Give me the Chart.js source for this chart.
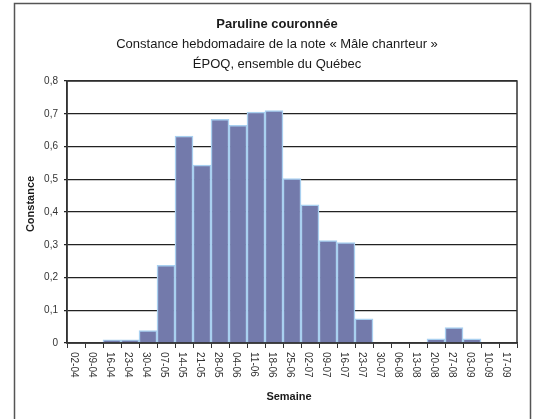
<!DOCTYPE html>
<html>
<head>
<meta charset="utf-8">
<script src="https://cdn.jsdelivr.net/npm/chart.js@4.4.1/dist/chart.umd.min.js"></script>
<style>
  html, body { margin: 0; padding: 0; background: #fff; }
  #wrap { position: relative; width: 536px; height: 419px; }
</style>
</head>
<body>
<div id="wrap"><canvas id="c" width="536" height="419"></canvas></div>
<script>
const weeks = ['02-04','09-04','16-04','23-04','30-04','07-05','14-05','21-05','28-05','04-06','11-06','18-06','25-06','02-07','09-07','16-07','23-07','30-07','06-08','13-08','20-08','27-08','03-09','10-09','17-09'];
const constance = [0,0,0.01,0.01,0.038,0.237,0.632,0.543,0.683,0.665,0.705,0.71,0.502,0.422,0.313,0.307,0.074,0,0,0,0.013,0.047,0.013,0,0];
const titleLines = ['Paruline couronnée', 'Constance hebdomadaire de la note « Mâle chanrteur »', 'ÉPOQ, ensemble du Québec'];
const yTitle = 'Constance';
const xTitle = 'Semaine';

const FONT = '"Liberation Sans", Arial, sans-serif';
const NARROW = '"Liberation Sans Narrow", "Arial Narrow", "Liberation Sans", sans-serif';

const decor = {
  id: 'decor',
  beforeDraw(chart) {
    const ctx = chart.ctx;
    ctx.save();
    ctx.fillStyle = '#fff';
    ctx.fillRect(0, 0, chart.width, chart.height);
    ctx.restore();
  },
  afterDraw(chart) {
    const ctx = chart.ctx;
    const a = chart.chartArea;
    const xs = chart.scales.x;
    ctx.save();
    // outer frame
    ctx.strokeStyle = '#555';
    ctx.lineWidth = 1.5;
    ctx.strokeRect(14.5, 3.5, 516, 430);
    // plot border
    ctx.strokeStyle = '#333';
    ctx.lineWidth = 1.5;
    ctx.strokeRect(a.left, a.top, a.right - a.left, a.bottom - a.top);
    // titles
    ctx.fillStyle = '#1a1a1a';
    ctx.textAlign = 'center';
    ctx.textBaseline = 'alphabetic';
    ctx.font = 'bold 13px ' + FONT;
    ctx.fillText(titleLines[0], 277, 28);
    ctx.font = '13px ' + FONT;
    ctx.fillText(titleLines[1], 277, 48);
    ctx.fillText(titleLines[2], 277, 68);
    // x tick labels rotated clockwise
    ctx.font = '10px ' + NARROW;
    ctx.fillStyle = '#333';
    weeks.forEach((w, i) => {
      const px = xs.getPixelForTick(i);
      ctx.save();
      ctx.translate(px - 2, a.bottom + 9);
      ctx.rotate(Math.PI / 2);
      ctx.textAlign = 'left';
      ctx.textBaseline = 'middle';
      ctx.fillText(w, 0, 0);
      ctx.restore();
    });
    // axis titles
    ctx.fillStyle = '#1a1a1a';
    ctx.font = 'bold 11px ' + NARROW;
    ctx.textAlign = 'center';
    ctx.textBaseline = 'middle';
    ctx.fillText(xTitle, 289, 397);
    ctx.save();
    ctx.translate(31, 204);
    ctx.rotate(-Math.PI / 2);
    ctx.fillText(yTitle, 0, 0);
    ctx.restore();
    ctx.restore();
  }
};

new Chart(document.getElementById('c'), {
  type: 'bar',
  data: {
    labels: weeks,
    datasets: [{
      data: constance,
      backgroundColor: '#737aab',
      borderColor: '#a9d0f0',
      borderWidth: 1.5,
      barPercentage: 1,
      categoryPercentage: 1
    }]
  },
  options: {
    responsive: false,
    animation: false,
    devicePixelRatio: 1,
    layout: { padding: { top: 81, left: 0, right: 19, bottom: 26 } },
    plugins: { legend: { display: false }, tooltip: { enabled: false }, title: { display: false } },
    scales: {
      x: {
        afterFit: s => { s.height = 50; },
        ticks: { display: false },
        grid: { offset: true, drawOnChartArea: false, drawTicks: true, tickLength: 5, color: '#333', lineWidth: 1 },
        border: { display: true, color: '#333', width: 1.5 }
      },
      y: {
        min: 0, max: 0.8,
        afterFit: s => { s.width = 67; },
        ticks: {
          stepSize: 0.1,
          padding: 6,
          color: '#333',
          font: { family: NARROW, size: 10 },
          callback: v => v === 0 ? '0' : Number(v).toFixed(1).replace('.', ',')
        },
        grid: { color: '#222', lineWidth: 1.2, drawTicks: true, tickLength: 3 },
        border: { display: true, color: '#333', width: 1.5 }
      }
    }
  },
  plugins: [decor]
});
</script>
</body>
</html>
